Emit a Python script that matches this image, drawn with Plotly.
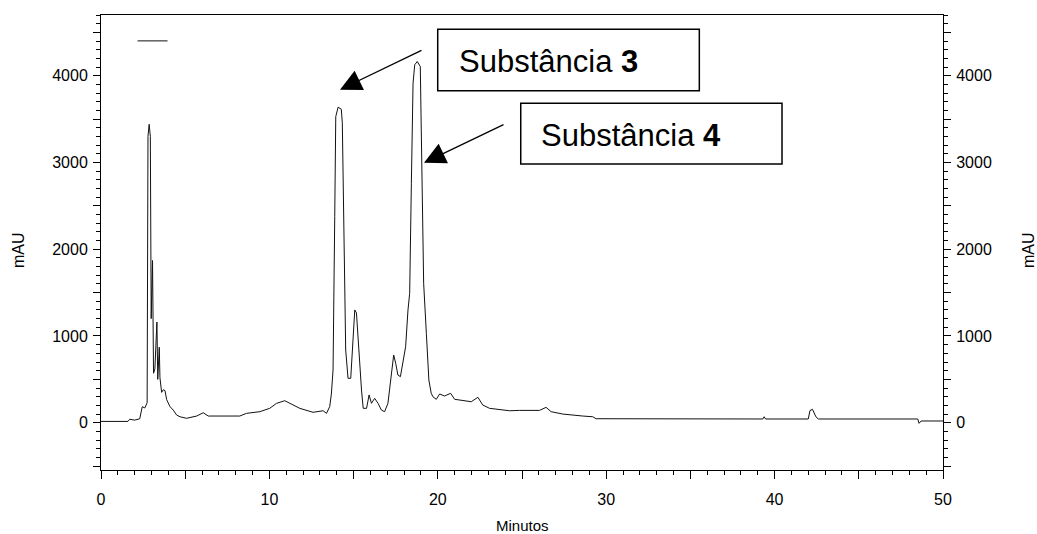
import plotly.graph_objects as go

# Retention time (min) and absorbance (mAU)
time_min = [0, 1.6, 1.7, 2.0, 2.3, 2.45, 2.6, 2.7, 2.74, 2.79, 2.86, 2.93, 2.98, 3.06, 3.12, 3.2,
            3.32, 3.37, 3.46, 3.5, 3.6, 3.7, 3.8, 3.9, 4.1, 4.29, 4.49, 4.69, 5.08, 5.68, 6.07,
            6.37, 8.24, 8.64, 9.43, 10.02, 10.42, 10.91, 11.21, 11.8, 12.59, 13.19, 13.39, 13.58,
            13.68, 13.78, 13.88, 13.94, 14.08, 14.27, 14.33, 14.41, 14.53, 14.67, 14.83, 14.93,
            15.07, 15.17, 15.33, 15.47, 15.57, 15.77, 15.92, 16.06, 16.25, 16.45, 16.65, 16.84,
            17.04, 17.18, 17.38, 17.5, 17.63, 17.78, 17.93, 18.09, 18.23, 18.33, 18.43, 18.53,
            18.63, 18.78, 18.96, 19.04, 19.16, 19.32, 19.47, 19.61, 19.71, 19.91, 20.11, 20.4,
            20.76, 21.0, 21.49, 21.99, 22.38, 22.67, 23.07, 23.67, 24.26, 24.85, 25.44, 26.04,
            26.43, 26.73, 27.42, 28.01, 28.61, 29.2, 29.4, 39.3, 39.38, 39.46, 42.0, 42.1, 42.25,
            42.45, 42.6, 48.5, 48.58, 48.7, 50]
signal_mau = [15, 15, 40, 30, 45, 185, 170, 205, 230, 3300, 3440, 3300, 1200, 1870, 570, 620,
              1160, 500, 870, 520, 350, 380, 370, 265, 185, 146, 89, 69, 51, 77, 115,
              77, 77, 108, 127, 166, 223, 254, 223, 166, 120, 138, 108, 185,
              330, 608, 2376, 3529, 3637, 3614, 3457, 2376, 838, 512, 512, 838,
              1300, 1265, 761, 377, 166, 166, 320, 224, 281, 224, 146, 127,
              224, 454, 781, 685, 550, 531, 723, 877, 1300, 1492, 2761, 3915,
              4126, 4164, 4106, 3145, 1608, 1031, 492, 339, 300, 270, 331, 308,
              339, 270, 254, 242, 293, 204, 166, 155, 138, 142, 138, 142,
              177, 127, 100, 85, 77, 69, 46, 43, 69, 43, 43, 140, 155,
              69, 43, 43, -7, 20, 20]

x_major = [0, 5, 10, 15, 20, 25, 30, 35, 40, 45, 50]
x_labels = ["0", "", "10", "", "20", "", "30", "", "40", "", "50"]
y_major = [-500, 0, 500, 1000, 1500, 2000, 2500, 3000, 3500, 4000, 4500]
y_labels = ["", "0", "", "1000", "", "2000", "", "3000", "", "4000", ""]

peak_labels = ["Substância <b>3</b>", "Substância <b>4</b>"]

FONT = "Liberation Sans, Arial, sans-serif"

fig = go.Figure()
fig.add_trace(go.Scatter(x=time_min, y=signal_mau, mode="lines", name=" ",
                         line=dict(color="#111111", width=1), showlegend=True))
fig.add_trace(go.Scatter(x=time_min[:1], y=signal_mau[:1], mode="lines", yaxis="y2",
                         line=dict(width=0), opacity=0, showlegend=False, hoverinfo="skip"))

yax = dict(range=[-545, 4700], tickmode="array", tickvals=y_major, ticktext=y_labels,
           ticks="outside", ticklen=7, tickwidth=1, tickcolor="black",
           minor=dict(dtick=100, tick0=0, ticks="outside", ticklen=4, tickcolor="black"),
           showline=True, linecolor="black", linewidth=1, showgrid=False, zeroline=False,
           automargin=False, ticklabelstandoff=2,
           tickfont=dict(family=FONT, size=16, color="black"))

fig.update_layout(
    width=1037, height=534,
    margin=dict(l=101, r=94, t=15, b=64, autoexpand=False),
    plot_bgcolor="white", paper_bgcolor="white",
    xaxis=dict(range=[0, 50], tickmode="array", tickvals=x_major, ticktext=x_labels,
               ticks="outside", ticklen=8, tickwidth=1, tickcolor="black",
               minor=dict(dtick=1, tick0=0, ticks="outside", ticklen=4, tickcolor="black"),
               showline=True, linecolor="black", linewidth=1, mirror=True,
               showgrid=False, zeroline=False, ticklabelstandoff=7, automargin=False,
               tickfont=dict(family=FONT, size=16, color="black")),
    yaxis=yax,
    yaxis2=dict(yax, overlaying="y", side="right", anchor="x"),
    legend=dict(x=0.0375, y=0.975, xanchor="left", yanchor="top", bgcolor="rgba(0,0,0,0)",
                borderwidth=0, font=dict(family=FONT, size=12)),
    showlegend=True,
)

# Axis titles
fig.add_annotation(text="mAU", xref="paper", yref="paper", x=-0.0986, y=0.4835,
                   xanchor="center", yanchor="middle",
                   textangle=-90, showarrow=False, font=dict(family=FONT, size=16, color="black"))
fig.add_annotation(text="mAU", xref="paper", yref="paper", x=1.101, y=0.4835,
                   xanchor="center", yanchor="middle",
                   textangle=-90, showarrow=False, font=dict(family=FONT, size=16, color="black"))
fig.add_annotation(text="Minutos", xref="paper", yref="paper", x=0.5, y=-0.121,
                   xanchor="center", yanchor="middle",
                   showarrow=False, font=dict(family=FONT, size=15, color="black"))

# Label boxes
fig.add_shape(type="rect", xref="paper", yref="paper", x0=0.3999, x1=0.7106, y0=0.8336, y1=0.9686,
              line=dict(color="black", width=1.5), fillcolor="white")
fig.add_shape(type="rect", xref="paper", yref="paper", x0=0.4985, x1=0.8088, y0=0.6725, y1=0.8059,
              line=dict(color="black", width=1.5), fillcolor="white")
fig.add_annotation(text=peak_labels[0], xref="paper", yref="paper", x=0.4225, y=0.897,
                   xanchor="left", yanchor="middle", showarrow=False,
                   font=dict(family=FONT, size=31, color="black"))
fig.add_annotation(text=peak_labels[1], xref="paper", yref="paper", x=0.5207, y=0.7343,
                   xanchor="left", yanchor="middle", showarrow=False,
                   font=dict(family=FONT, size=31, color="black"))

# Arrows pointing at the peaks
fig.add_annotation(text="", x=14.19, y=3839, xref="x", yref="y", ax=83, ay=-40,
                   showarrow=True, arrowhead=2, arrowsize=3.3, arrowwidth=1.3, arrowcolor="black")
fig.add_annotation(text="", x=19.18, y=2996, xref="x", yref="y", ax=81, ay=-39,
                   showarrow=True, arrowhead=2, arrowsize=3.3, arrowwidth=1.3, arrowcolor="black")

fig.write_html("out.html", config={"displayModeBar": False},
               post_script="document.body.style.margin='0px';document.body.style.overflow='hidden';")
